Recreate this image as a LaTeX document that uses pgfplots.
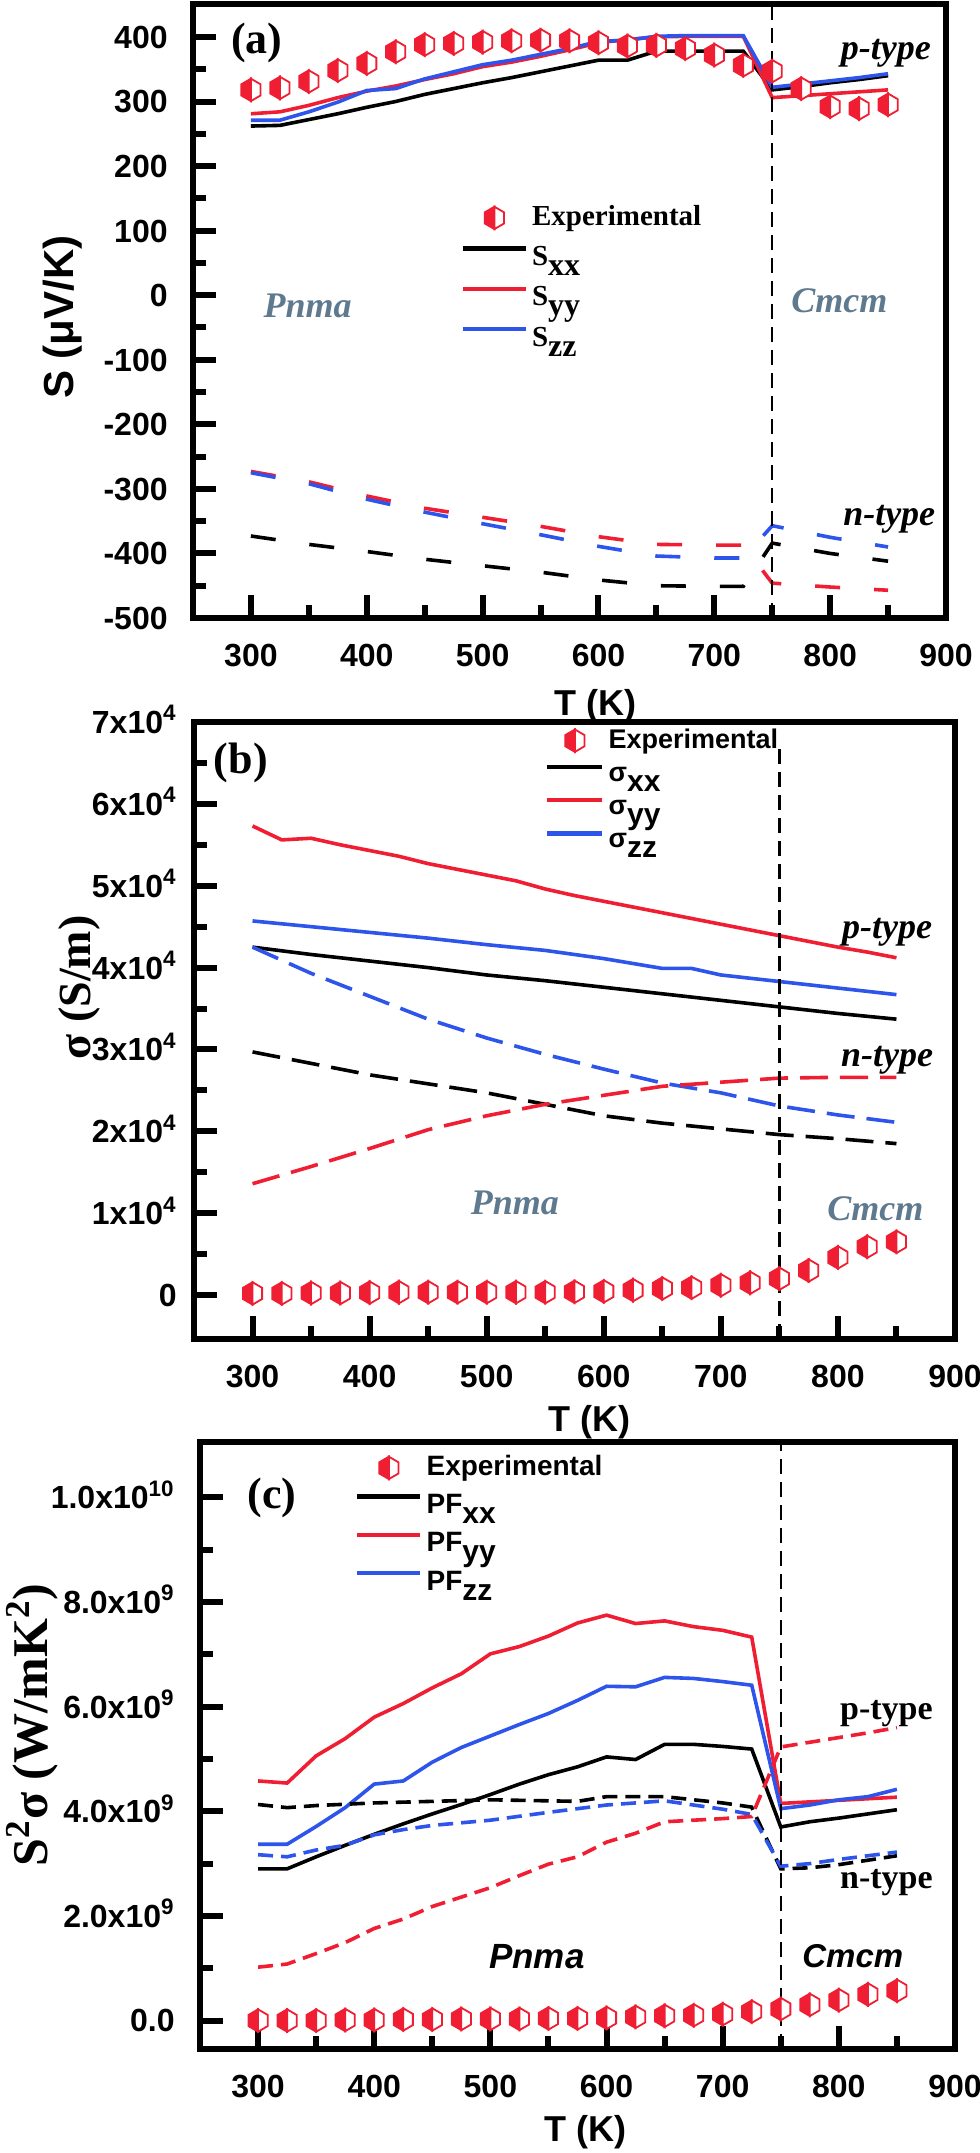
\documentclass[border=0pt]{standalone}
\usepackage{fontspec}
\setmainfont{Liberation Serif}
\setsansfont{Liberation Sans}
\usepackage{pgfplots}
\pgfplotsset{compat=1.18}

\definecolor{cR}{RGB}{240,30,50}
\definecolor{cB}{RGB}{45,85,235}
\definecolor{cG}{RGB}{95,122,142}

\pgfdeclareplotmark{halfhex}{%
  \pgfscope
  \pgfsetlinewidth{0.9pt}%
  \pgfsetstrokecolor{cR}%
  \pgfsetfillcolor{cR}%
  \pgfpathmoveto{\pgfqpoint{0pt}{5.6pt}}%
  \pgfpathlineto{\pgfqpoint{-4.8pt}{2.8pt}}%
  \pgfpathlineto{\pgfqpoint{-4.8pt}{-2.8pt}}%
  \pgfpathlineto{\pgfqpoint{0pt}{-5.6pt}}%
  \pgfpathclose
  \pgfusepath{fill,stroke}%
  \endpgfscope
  \pgfscope
  \pgfsetlinewidth{0.9pt}%
  \pgfsetstrokecolor{cR}%
  \pgfsetfillcolor{white}%
  \pgfpathmoveto{\pgfqpoint{0pt}{5.6pt}}%
  \pgfpathlineto{\pgfqpoint{4.8pt}{2.8pt}}%
  \pgfpathlineto{\pgfqpoint{4.8pt}{-2.8pt}}%
  \pgfpathlineto{\pgfqpoint{0pt}{-5.6pt}}%
  \pgfpathclose
  \pgfusepath{fill,stroke}%
  \endpgfscope
}

\newcommand\lsub[1]{\raisebox{-5pt}{#1}}
\newcommand\xtk[3]{\addplot[tk] coordinates {(#1,#2)(#1,#3)};}
\newcommand\ytk[3]{\addplot[tk] coordinates {(#2,#1)(#3,#1)};}

\pgfplotsset{
  myax/.style={
    scale only axis, clip=false,
    xmin=250, xmax=900,
    xtick={300,400,500,600,700,800,900},
    xticklabels={300,400,500,600,700,800,900},
    minor x tick num=1, minor y tick num=1,
    xtick pos=left, ytick pos=left, tick align=inside,
    major tick length=11.5pt, minor tick length=6.5pt,
    major tick style={draw=black, line width=2.8pt},
    minor tick style={draw=black, line width=2.8pt},
    axis line style={line width=3pt},
    tick label style={font=\sffamily\bfseries\fontsize{16}{18}\selectfont},
    xticklabel style={anchor=base, yshift=-24pt},
    scaled ticks=false,
    xlabel={T (K)},
    xlabel style={font=\sffamily\bfseries\fontsize{18}{20}\selectfont, anchor=center},
    legend cell align=left,
  },
  expt/.style={only marks, mark=halfhex,
    legend image code/.code={\draw[##1] plot coordinates {(15.75pt,4.5pt)};}},
  exptB/.style={only marks, mark=halfhex,
    legend image code/.code={\draw[##1] plot coordinates {(13.75pt,4.5pt)};}},
  lineA/.style={line width=1.8pt,
    legend image code/.code={\draw[##1, line width=2.2pt] (0pt,4.5pt) -- (31.5pt,4.5pt);}},
  lineB/.style={line width=1.8pt,
    legend image code/.code={\draw[##1, line width=2.2pt] (0pt,4.5pt) -- (27.5pt,4.5pt);}},
  vdash/.style={black, line width=1.2pt, dash pattern=on 7.5pt off 4pt, forget plot},
  tk/.style={forget plot, black, line width=3pt, solid, mark=none},
}

\begin{document}
\begin{tikzpicture}

% ================= panel (a) =================
\begin{axis}[myax,
  at={(96.5pt,-309pt)}, anchor=south west,
  width=376.5pt, height=307pt,
  ymin=-500, ymax=451,
  ytick={-500,-400,-300,-200,-100,0,100,200,300,400},
  yticklabels={-500,-400,-300,-200,-100,0,100,200,300,400},
  yticklabel style={anchor=base east, inner sep=0pt, xshift=-12.5pt, yshift=-5.7pt},
  xlabel style={at={(axis description cs:0.534,-0.143)}},
  ylabel={S (μV/K)},
  ylabel style={at={(axis description cs:-0.173,0.49)}, anchor=center,
    font=\sffamily\bfseries\fontsize{21}{23}\selectfont},
  legend style={draw=none, fill=none, at={(axis description cs:0.355,0.672)},
    anchor=north west, inner sep=0pt, row sep=5pt,
    font=\rmfamily\bfseries\fontsize{14.5}{16}\selectfont,
    nodes={inner sep=2pt}},
]
\addplot[expt] coordinates {(300,318)(325,321)(350,331)(375,348)(400,359)(425,377)(450,388)(475,390)(500,392)(525,394)(550,395)(575,394)(600,391)(625,386)(650,387)(675,382)(700,372)(725,356)(750,347)(775,320)(800,292)(825,289)(850,295)};
\addlegendentry{\smash{Experimental}}
\addplot[lineA, black] coordinates {(300,262)(325,263)(350,272)(375,281)(400,291)(425,300)(450,311)(475,320)(500,329)(525,337)(550,346)(575,355)(600,364)(625,364)(650,378)(675,378)(700,378)(725,378)(750,318)(775,323)(800,329)(825,334)(850,340)};
\addlegendentry{S\lsub{\fontsize{16}{16}\selectfont xx}}
\addplot[lineA, cR] coordinates {(300,281)(325,284)(350,294)(375,306)(400,316)(425,324)(450,334)(475,343)(500,354)(525,361)(550,370)(575,380)(600,391)(625,396)(650,400)(675,401)(700,401)(725,401)(750,306)(775,309)(800,312)(825,315)(850,318)};
\addlegendentry{S\lsub{\fontsize{16}{16}\selectfont yy}}
\addplot[lineA, cB] coordinates {(300,271)(325,271)(350,284)(375,299)(400,317)(425,320)(450,335)(475,346)(500,357)(525,364)(550,373)(575,382)(600,393)(625,395)(650,401)(675,402)(700,402)(725,402)(750,322)(775,327)(800,332)(825,337)(850,343)};
\addlegendentry{S\lsub{\fontsize{16}{16}\selectfont zz}}
% n-type (dashed)
\addplot[forget plot, black, line width=1.8pt, dash pattern=on 12.5pt off 17pt] coordinates {(300,-373)(350,-386)(400,-397)(450,-409)(500,-419)(550,-429)(600,-441)(650,-450)(700,-451)(725,-451)(750,-384)(800,-400)(850,-412)};
\addplot[forget plot, cR, line width=1.8pt, dash pattern=on 12.5pt off 17pt] coordinates {(300,-273)(350,-289)(400,-311)(450,-330)(500,-344)(550,-358)(600,-374)(650,-386)(700,-387)(725,-387)(750,-446)(800,-452)(850,-457)};
\addplot[forget plot, cB, line width=1.8pt, dash pattern=on 12.5pt off 17pt] coordinates {(300,-275)(350,-292)(400,-316)(450,-336)(500,-354)(550,-371)(600,-389)(650,-404)(700,-407)(725,-407)(750,-357)(800,-375)(850,-390)};
\addplot[vdash] coordinates {(750,-500)(750,451)};
% tick marks
\xtk{300}{-500}{-464.4}\xtk{400}{-500}{-464.4}\xtk{500}{-500}{-464.4}\xtk{600}{-500}{-464.4}\xtk{700}{-500}{-464.4}\xtk{800}{-500}{-464.4}
\xtk{350}{-500}{-479.9}\xtk{450}{-500}{-479.9}\xtk{550}{-500}{-479.9}\xtk{650}{-500}{-479.9}\xtk{750}{-500}{-479.9}\xtk{850}{-500}{-479.9}
\ytk{-400}{250}{269.85}\ytk{-300}{250}{269.85}\ytk{-200}{250}{269.85}\ytk{-100}{250}{269.85}\ytk{0}{250}{269.85}\ytk{100}{250}{269.85}\ytk{200}{250}{269.85}\ytk{300}{250}{269.85}\ytk{400}{250}{269.85}
\ytk{-450}{250}{261.2}\ytk{-350}{250}{261.2}\ytk{-250}{250}{261.2}\ytk{-150}{250}{261.2}\ytk{-50}{250}{261.2}\ytk{50}{250}{261.2}\ytk{150}{250}{261.2}\ytk{250}{250}{261.2}\ytk{350}{250}{261.2}
\node[font=\rmfamily\bfseries\fontsize{22}{24}\selectfont] at (axis cs:305,390) {(a)};
\node[font=\rmfamily\bfseries\itshape\fontsize{18}{20}\selectfont, text=cG] at (axis cs:349,-16) {Pnma};
\node[font=\rmfamily\bfseries\itshape\fontsize{18}{20}\selectfont, text=cG] at (axis cs:808,-8) {Cmcm};
\node[font=\rmfamily\bfseries\itshape\fontsize{18}{20}\selectfont] at (axis cs:848,374) {p-type};
\node[font=\rmfamily\bfseries\itshape\fontsize{18}{20}\selectfont] at (axis cs:851,-347) {n-type};
\end{axis}

% ================= panel (b) =================
\begin{axis}[myax,
  at={(97pt,-669.5pt)}, anchor=south west,
  width=380.5pt, height=308.5pt,
  ymin=-5370, ymax=70000,
  ytick={0,10000,20000,30000,40000,50000,60000,70000},
  yticklabels={0,1x10\textsuperscript{4},2x10\textsuperscript{4},3x10\textsuperscript{4},4x10\textsuperscript{4},5x10\textsuperscript{4},6x10\textsuperscript{4},7x10\textsuperscript{4}},
  yticklabel style={anchor=base east, inner sep=0pt, xshift=-8.5pt, yshift=-5.7pt},
  xlabel style={at={(axis description cs:0.52,-0.135)}},
  ylabel={σ (S/m)},
  ylabel style={at={(axis description cs:-0.15,0.57)}, anchor=center,
    font=\rmfamily\bfseries\fontsize{23}{25}\selectfont},
  legend style={draw=none, fill=none, at={(axis description cs:0.461,0.99)},
    anchor=north west, inner sep=0pt, row sep=4pt,
    font=\sffamily\bfseries\fontsize{13.5}{15}\selectfont,
    nodes={inner sep=2pt}},
]
\addplot[exptB] coordinates {(300,200)(325,200)(350,250)(375,250)(400,300)(425,350)(450,350)(475,350)(500,350)(525,350)(550,350)(575,400)(600,450)(625,600)(650,800)(675,900)(700,1200)(725,1500)(750,2000)(775,3000)(800,4600)(825,5900)(850,6500)};
\addlegendentry{\smash{Experimental}}
\addplot[lineB, black] coordinates {(300,42500)(350,41600)(400,40800)(450,40000)(500,39100)(550,38400)(600,37600)(650,36800)(700,36000)(750,35200)(800,34400)(850,33700)};
\addlegendentry{σ\lsub{\fontsize{15}{15}\selectfont xx}}
\addplot[lineB, cR] coordinates {(300,57300)(325,55600)(350,55800)(375,55000)(400,54300)(425,53600)(450,52700)(475,52000)(500,51300)(525,50600)(550,49600)(575,48800)(600,48100)(625,47400)(650,46700)(675,46000)(700,45300)(725,44600)(750,43900)(775,43200)(800,42500)(825,41900)(850,41200)};
\addlegendentry{σ\lsub{\fontsize{15}{15}\selectfont yy}}
\addplot[lineB, cB] coordinates {(300,45700)(350,45000)(400,44300)(450,43600)(500,42800)(550,42100)(600,41100)(625,40500)(650,39900)(675,39900)(700,39100)(750,38300)(800,37500)(850,36700)};
\addlegendentry{σ\lsub{\fontsize{15}{15}\selectfont zz}}
\addplot[forget plot, cB, line width=1.8pt, dash pattern=on 14pt off 6pt] coordinates {(300,42500)(350,39300)(400,36500)(450,33700)(500,31400)(550,29400)(600,27600)(650,25900)(700,24700)(750,23100)(800,22000)(850,21100)};
\addplot[forget plot, black, line width=1.8pt, dash pattern=on 14pt off 6pt] coordinates {(300,29700)(400,26900)(500,24700)(550,23300)(600,21900)(650,21000)(700,20300)(750,19600)(800,19100)(850,18500)};
\addplot[forget plot, cR, line width=1.8pt, dash pattern=on 14pt off 6pt] coordinates {(300,13600)(350,15700)(400,17900)(450,20200)(500,21900)(550,23300)(600,24400)(650,25500)(700,26000)(750,26500)(800,26600)(850,26600)};
\addplot[vdash] coordinates {(750,-5370)(750,67000)};
% tick marks
\xtk{300}{-5370}{-2560}\xtk{400}{-5370}{-2560}\xtk{500}{-5370}{-2560}\xtk{600}{-5370}{-2560}\xtk{700}{-5370}{-2560}\xtk{800}{-5370}{-2560}
\xtk{350}{-5370}{-3782}\xtk{450}{-5370}{-3782}\xtk{550}{-5370}{-3782}\xtk{650}{-5370}{-3782}\xtk{750}{-5370}{-3782}\xtk{850}{-5370}{-3782}
\ytk{0}{250}{269.6}\ytk{10000}{250}{269.6}\ytk{20000}{250}{269.6}\ytk{30000}{250}{269.6}\ytk{40000}{250}{269.6}\ytk{50000}{250}{269.6}\ytk{60000}{250}{269.6}
\ytk{5000}{250}{261.1}\ytk{15000}{250}{261.1}\ytk{25000}{250}{261.1}\ytk{35000}{250}{261.1}\ytk{45000}{250}{261.1}\ytk{55000}{250}{261.1}\ytk{65000}{250}{261.1}
\node[font=\rmfamily\bfseries\fontsize{22}{24}\selectfont] at (axis cs:290,65040) {(b)};
\node[font=\rmfamily\bfseries\itshape\fontsize{18}{20}\selectfont, text=cG] at (axis cs:524,11300) {Pnma};
\node[font=\rmfamily\bfseries\itshape\fontsize{18}{20}\selectfont, text=cG] at (axis cs:832,10500) {Cmcm};
\node[font=\rmfamily\bfseries\itshape\fontsize{18}{20}\selectfont] at (axis cs:842,44300) {p-type};
\node[font=\rmfamily\bfseries\itshape\fontsize{18}{20}\selectfont] at (axis cs:842,28700) {n-type};
\end{axis}

% ================= panel (c) =================
\begin{axis}[myax,
  at={(100pt,-1024.5pt)}, anchor=south west,
  width=377.5pt, height=303.5pt,
  ymin=-0.545e9, ymax=1.106e10,
  ytick={0,2e9,4e9,6e9,8e9,1e10},
  yticklabels={0.0,2.0x10\textsuperscript{9},4.0x10\textsuperscript{9},6.0x10\textsuperscript{9},8.0x10\textsuperscript{9},1.0x10\textsuperscript{10}},
  yticklabel style={anchor=base east, inner sep=0pt, xshift=-12.5pt, yshift=-5.7pt},
  xlabel style={at={(axis description cs:0.51,-0.137)}},
  ylabel={S\textsuperscript{2}σ (W/mK\textsuperscript{2})},
  ylabel style={at={(axis description cs:-0.222,0.534)}, anchor=center,
    font=\rmfamily\bfseries\fontsize{25}{27}\selectfont},
  legend style={draw=none, fill=none, at={(axis description cs:0.205,0.978)},
    anchor=north west, inner sep=0pt, row sep=4pt,
    font=\sffamily\bfseries\fontsize{14}{16}\selectfont,
    nodes={inner sep=2pt}},
]
\addplot[expt] coordinates {(300,0)(325,0)(350,0)(375,0.01e9)(400,0.01e9)(425,0.02e9)(450,0.02e9)(475,0.03e9)(500,0.03e9)(525,0.03e9)(550,0.04e9)(575,0.04e9)(600,0.05e9)(625,0.07e9)(650,0.09e9)(675,0.10e9)(700,0.12e9)(725,0.17e9)(750,0.22e9)(775,0.30e9)(800,0.39e9)(825,0.50e9)(850,0.57e9)};
\addlegendentry{\smash{Experimental}}
\addplot[lineA, black] coordinates {(300,2.90e9)(325,2.90e9)(350,3.13e9)(375,3.35e9)(400,3.56e9)(425,3.76e9)(450,3.95e9)(475,4.13e9)(500,4.32e9)(525,4.52e9)(550,4.70e9)(575,4.85e9)(600,5.04e9)(625,4.99e9)(650,5.28e9)(675,5.28e9)(700,5.24e9)(725,5.19e9)(750,3.70e9)(775,3.80e9)(800,3.87e9)(825,3.95e9)(850,4.03e9)};
\addlegendentry{PF\lsub{\fontsize{15}{15}\selectfont xx}}
\addplot[lineA, cR] coordinates {(300,4.58e9)(325,4.54e9)(350,5.06e9)(375,5.39e9)(400,5.80e9)(425,6.06e9)(450,6.36e9)(475,6.63e9)(500,7.01e9)(525,7.15e9)(550,7.35e9)(575,7.60e9)(600,7.75e9)(625,7.59e9)(650,7.64e9)(675,7.53e9)(700,7.46e9)(725,7.33e9)(750,4.15e9)(775,4.18e9)(800,4.21e9)(825,4.24e9)(850,4.27e9)};
\addlegendentry{PF\lsub{\fontsize{15}{15}\selectfont yy}}
\addplot[lineA, cB] coordinates {(300,3.37e9)(325,3.37e9)(350,3.71e9)(375,4.07e9)(400,4.52e9)(425,4.58e9)(450,4.94e9)(475,5.22e9)(500,5.44e9)(525,5.66e9)(550,5.87e9)(575,6.12e9)(600,6.39e9)(625,6.38e9)(650,6.56e9)(675,6.54e9)(700,6.48e9)(725,6.41e9)(750,4.05e9)(775,4.12e9)(800,4.22e9)(825,4.28e9)(850,4.42e9)};
\addlegendentry{PF\lsub{\fontsize{15}{15}\selectfont zz}}
\addplot[forget plot, black, line width=1.8pt, dash pattern=on 7.5pt off 4pt] coordinates {(300,4.13e9)(325,4.07e9)(350,4.11e9)(400,4.16e9)(450,4.19e9)(500,4.22e9)(550,4.20e9)(575,4.19e9)(600,4.28e9)(650,4.28e9)(700,4.16e9)(725,4.08e9)(750,2.90e9)(775,2.92e9)(800,2.98e9)(850,3.15e9)};
\addplot[forget plot, cB, line width=1.8pt, dash pattern=on 7.5pt off 4pt] coordinates {(300,3.17e9)(325,3.13e9)(350,3.26e9)(375,3.35e9)(400,3.55e9)(425,3.65e9)(450,3.73e9)(500,3.83e9)(550,3.98e9)(600,4.12e9)(650,4.20e9)(675,4.12e9)(700,4.04e9)(725,3.94e9)(750,2.95e9)(775,3.00e9)(800,3.08e9)(850,3.22e9)};
\addplot[forget plot, cR, line width=1.8pt, dash pattern=on 7.5pt off 4pt] coordinates {(300,1.02e9)(325,1.08e9)(350,1.28e9)(375,1.49e9)(400,1.76e9)(425,1.94e9)(450,2.18e9)(475,2.36e9)(500,2.54e9)(525,2.77e9)(550,2.99e9)(575,3.13e9)(600,3.41e9)(625,3.58e9)(650,3.80e9)(675,3.83e9)(700,3.86e9)(725,3.90e9)(750,5.23e9)(775,5.32e9)(800,5.41e9)(825,5.50e9)(850,5.60e9)};
\addplot[vdash] coordinates {(750,-0.545e9)(750,1.106e10)};
% tick marks
\xtk{300}{-0.545e9}{-0.105e9}\xtk{400}{-0.545e9}{-0.105e9}\xtk{500}{-0.545e9}{-0.105e9}\xtk{600}{-0.545e9}{-0.105e9}\xtk{700}{-0.545e9}{-0.105e9}\xtk{800}{-0.545e9}{-0.105e9}
\xtk{350}{-0.545e9}{-0.296e9}\xtk{450}{-0.545e9}{-0.296e9}\xtk{550}{-0.545e9}{-0.296e9}\xtk{650}{-0.545e9}{-0.296e9}\xtk{750}{-0.545e9}{-0.296e9}\xtk{850}{-0.545e9}{-0.296e9}
\ytk{0}{250}{269.8}\ytk{2e9}{250}{269.8}\ytk{4e9}{250}{269.8}\ytk{6e9}{250}{269.8}\ytk{8e9}{250}{269.8}\ytk{1e10}{250}{269.8}
\ytk{1e9}{250}{261.2}\ytk{3e9}{250}{261.2}\ytk{5e9}{250}{261.2}\ytk{7e9}{250}{261.2}\ytk{9e9}{250}{261.2}
\node[font=\rmfamily\bfseries\fontsize{22}{24}\selectfont] at (axis cs:312,10.0e9) {(c)};
\node[font=\sffamily\bfseries\itshape\fontsize{17.5}{20}\selectfont] at (axis cs:540,1.23e9) {Pnma};
\node[font=\sffamily\bfseries\itshape\fontsize{16.5}{20}\selectfont] at (axis cs:812,1.23e9) {Cmcm};
\node[font=\rmfamily\bfseries\fontsize{17}{20}\selectfont] at (axis cs:841,5.86e9) {p-type};
\node[font=\rmfamily\bfseries\fontsize{17}{20}\selectfont] at (axis cs:841,2.63e9) {n-type};
\end{axis}

\pgfresetboundingbox
\useasboundingbox (0pt,0pt) rectangle (490pt,-1076.5pt);
\end{tikzpicture}
\end{document}
